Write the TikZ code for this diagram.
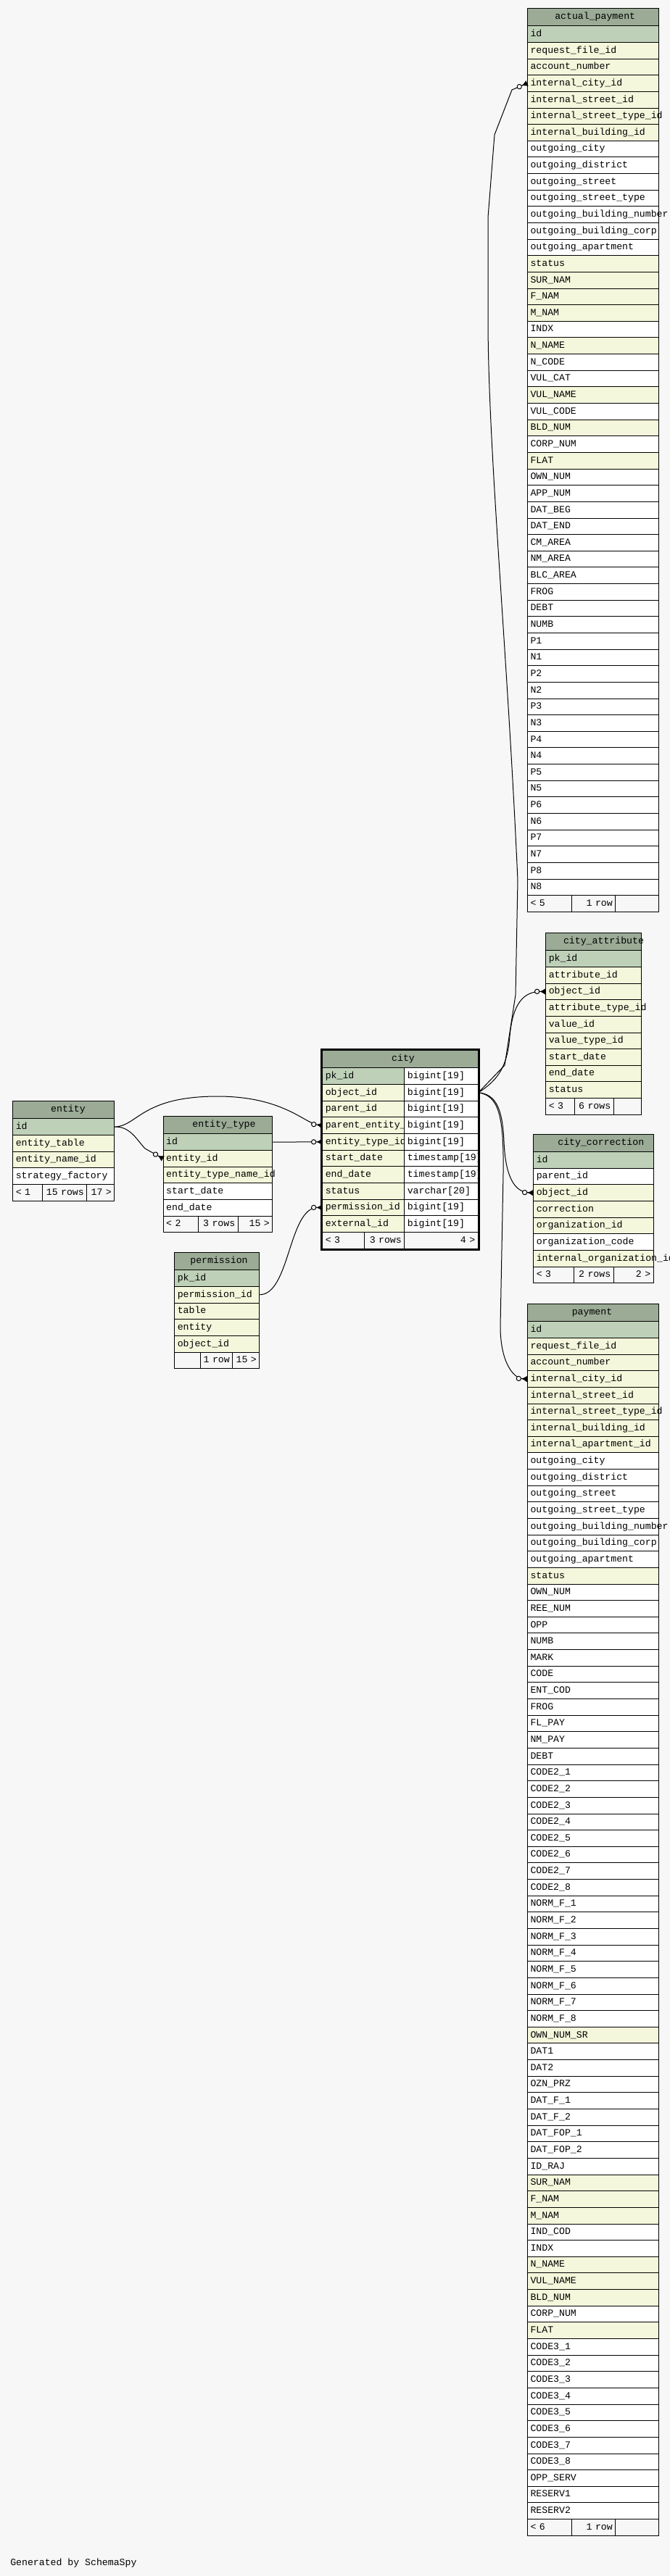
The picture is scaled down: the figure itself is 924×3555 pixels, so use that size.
\documentclass[tikz,border=0pt]{standalone}
\usepackage{fontspec}
\newfontfamily\schemafont{Liberation Mono}
\usepackage{xcolor}
\usetikzlibrary{arrows.meta}
\definecolor{bgcol}{HTML}{F7F7F7}
\definecolor{headcol}{HTML}{9BAB96}
\definecolor{pk}{HTML}{BED1B8}
\definecolor{ix}{HTML}{F4F7DB}
\definecolor{wh}{HTML}{FFFFFF}
\tikzset{
  rowcell/.style={draw, line width=0.75pt, anchor=north west, inner xsep=3pt, inner ysep=0pt,
    minimum height=17pt, text height=7pt, text depth=2pt, align=left,
    font=\schemafont\fontsize{9.9}{11}\selectfont},
  headcell/.style={rowcell, fill=headcol, minimum height=18pt},
  footcell/.style={rowcell, fill=bgcol, align=right},
  tabtitle/.style={inner sep=0pt, font=\schemafont\fontsize{9.9}{11}\selectfont},
  fk/.style={line width=0.75pt,
    -{Circle[fill=bgcol,length=5.5pt,width=5.5pt] Latex[reversed,length=6pt,width=6.5pt]}},
}
\begin{document}
\catcode`\_=12
\begin{tikzpicture}[x=0.75pt,y=-0.75pt]
  \fill[bgcol] (0,0) rectangle (924,3555);
  \useasboundingbox (0,0) rectangle (924,3555);

  % actual_payment
  \node[headcell, text width=129.75pt] (ap-h) at (727,11.3) {};
  \node[tabtitle] (ap-t) at (820.7,23.5) {actual_payment};
  \foreach \col/\k [count=\i] in {id/pk, request_file_id/ix, account_number/ix, internal_city_id/ix,
      internal_street_id/ix, internal_street_type_id/ix, internal_building_id/ix, outgoing_city/wh,
      outgoing_district/wh, outgoing_street/wh, outgoing_street_type/wh, outgoing_building_number/wh,
      outgoing_building_corp/wh, outgoing_apartment/wh, status/ix, SUR_NAM/ix, F_NAM/ix, M_NAM/ix,
      INDX/wh, N_NAME/ix, N_CODE/wh, VUL_CAT/wh, VUL_NAME/ix, VUL_CODE/wh, BLD_NUM/ix, CORP_NUM/wh,
      FLAT/ix, OWN_NUM/wh, APP_NUM/wh, DAT_BEG/wh, DAT_END/wh, CM_AREA/wh, NM_AREA/wh, BLC_AREA/wh,
      FROG/wh, DEBT/wh, NUMB/wh, P1/wh, N1/wh, P2/wh, N2/wh, P3/wh, N3/wh, P4/wh, N4/wh, P5/wh,
      N5/wh, P6/wh, N6/wh, P7/wh, N7/wh, P8/wh, N8/wh}
    \node[rowcell, fill=\k, text width=129.75pt] (ap-\i) at (727,{35.3+(\i-1)*22.64}) {\col};
  \node[footcell, align=left, text width=39.98pt] (ap-f1) at (727,1235.2) {< 5};
  \node[footcell, text width=39pt] (ap-f2) at (788.3,1235.2) {1 row};
  \node[footcell, text width=38.78pt] (ap-f3) at (848.3,1235.2) {};

  % city_attribute
  \node[headcell, text width=93pt] (ca-h) at (752.3,1287.3) {};
  \node[tabtitle] (ca-t) at (832.5,1299.5) {city_attribute};
  \foreach \col/\k [count=\i] in {pk_id/pk, attribute_id/ix, object_id/ix, attribute_type_id/ix,
      value_id/ix, value_type_id/ix, start_date/ix, end_date/ix, status/ix}
    \node[rowcell, fill=\k, text width=93pt] (ca-\i) at (752.3,{1311.3+(\i-1)*22.64}) {\col};
  \node[footcell, align=left, text width=24pt] (ca-f1) at (752.3,1515.1) {< 3};
  \node[footcell, text width=34.05pt] (ca-f2) at (792.3,1515.1) {6 rows};
  \node[footcell, text width=22.95pt] (ca-f3) at (845.7,1515.1) {};

  % city_correction
  \node[headcell, text width=118.05pt] (cc-h) at (735.3,1565) {};
  \node[tabtitle] (cc-t) at (828.8,1577.2) {city_correction};
  \foreach \col/\k [count=\i] in {id/pk, parent_id/wh, object_id/ix, correction/ix,
      organization_id/ix, organization_code/wh, internal_organization_id/ix}
    \node[rowcell, fill=\k, text width=118.05pt] (cc-\i) at (735.3,{1589+(\i-1)*22.64}) {\col};
  \node[footcell, align=left, text width=35.78pt] (cc-f1) at (735.3,1747.5) {< 3};
  \node[footcell, text width=35.03pt] (cc-f2) at (791,1747.5) {2 rows};
  \node[footcell, text width=35.25pt] (cc-f3) at (845.7,1747.5) {2 >};

  % payment
  \node[headcell, text width=129.75pt] (pa-h) at (727,1799.3) {};
  \node[tabtitle] (pa-t) at (816.5,1811.5) {payment};
  \foreach \col/\k [count=\i] in {id/pk, request_file_id/ix, account_number/ix, internal_city_id/ix,
      internal_street_id/ix, internal_street_type_id/ix, internal_building_id/ix,
      internal_apartment_id/ix, outgoing_city/wh, outgoing_district/wh, outgoing_street/wh,
      outgoing_street_type/wh, outgoing_building_number/wh, outgoing_building_corp/wh,
      outgoing_apartment/wh, status/ix, OWN_NUM/wh, REE_NUM/wh, OPP/wh, NUMB/wh, MARK/wh, CODE/wh,
      ENT_COD/wh, FROG/wh, FL_PAY/wh, NM_PAY/wh, DEBT/wh, CODE2_1/wh, CODE2_2/wh, CODE2_3/wh,
      CODE2_4/wh, CODE2_5/wh, CODE2_6/wh, CODE2_7/wh, CODE2_8/wh, NORM_F_1/wh, NORM_F_2/wh,
      NORM_F_3/wh, NORM_F_4/wh, NORM_F_5/wh, NORM_F_6/wh, NORM_F_7/wh, NORM_F_8/wh, OWN_NUM_SR/ix,
      DAT1/wh, DAT2/wh, OZN_PRZ/wh, DAT_F_1/wh, DAT_F_2/wh, DAT_FOP_1/wh, DAT_FOP_2/wh, ID_RAJ/wh,
      SUR_NAM/ix, F_NAM/ix, M_NAM/ix, IND_COD/wh, INDX/wh, N_NAME/ix, VUL_NAME/ix, BLD_NUM/ix,
      CORP_NUM/wh, FLAT/ix, CODE3_1/wh, CODE3_2/wh, CODE3_3/wh, CODE3_4/wh, CODE3_5/wh, CODE3_6/wh,
      CODE3_7/wh, CODE3_8/wh, OPP_SERV/wh, RESERV1/wh, RESERV2/wh}
    \node[rowcell, fill=\k, text width=129.75pt] (pa-\i) at (727,{1823.3+(\i-1)*22.64}) {\col};
  \node[footcell, align=left, text width=39.98pt] (pa-f1) at (727,3476) {< 6};
  \node[footcell, text width=39pt] (pa-f2) at (788.3,3476) {1 row};
  \node[footcell, text width=38.78pt] (pa-f3) at (848.3,3476) {};

  % entity
  \node[headcell, text width=99pt] (en-h) at (17.3,1519.3) {};
  \node[tabtitle] (en-t) at (94,1531.5) {entity};
  \foreach \col/\k [count=\i] in {id/pk, entity_table/ix, entity_name_id/ix, strategy_factory/wh}
    \node[rowcell, fill=\k, text width=99pt] (en-\i) at (17.3,{1543.3+(\i-1)*22.64}) {\col};
  \node[footcell, align=left, text width=24.3pt] (en-f1) at (17.3,1633.9) {< 1};
  \node[footcell, text width=40.2pt] (en-f2) at (57.7,1633.9) {15 rows};
  \node[footcell, text width=22.5pt] (en-f3) at (119.3,1633.9) {17 >};

  % entity_type
  \node[headcell, text width=106.95pt] (et-h) at (224.7,1540.3) {};
  \node[tabtitle] (et-t) at (309,1552.5) {entity_type};
  \foreach \col/\k [count=\i] in {id/pk, entity_id/ix, entity_type_name_id/ix, start_date/wh, end_date/wh}
    \node[rowcell, fill=\k, text width=106.95pt] (et-\i) at (224.7,{1564.3+(\i-1)*22.64}) {\col};
  \node[footcell, align=left, text width=30.45pt] (et-f1) at (224.7,1677.5) {< 2};
  \node[footcell, text width=34.8pt] (et-f2) at (273.3,1677.5) {3 rows};
  \node[footcell, text width=29.7pt] (et-f3) at (327.7,1677.5) {15 >};

  % permission
  \node[headcell, text width=81.75pt] (pe-h) at (240.3,1728.3) {};
  \node[tabtitle] (pe-t) at (302,1740.5) {permission};
  \foreach \col/\k [count=\i] in {pk_id/pk, permission_id/ix, table/ix, entity/ix, object_id/ix}
    \node[rowcell, fill=\k, text width=81.75pt] (pe-\i) at (240.3,{1752.3+(\i-1)*22.64}) {\col};
  \node[footcell, align=left, text width=20.55pt] (pe-f1) at (240.3,1865.5) {};
  \node[footcell, text width=27.45pt] (pe-f2) at (275.7,1865.5) {1 row};
  \node[footcell, text width=21.75pt] (pe-f3) at (320.3,1865.5) {15 >};

  % city
  \node[headcell, text width=154.8pt] (cy-h) at (444.3,1449.3) {};
  \node[tabtitle] (cy-t) at (556,1461.5) {city};
  \foreach \col/\typ/\k [count=\i] in {pk_id/bigint[19]/pk, object_id/bigint[19]/ix,
      parent_id/bigint[19]/ix, parent_entity_id/bigint[19]/ix, entity_type_id/bigint[19]/ix,
      start_date/timestamp[19]/ix, end_date/timestamp[19]/ix, status/varchar[20]/ix,
      permission_id/bigint[19]/ix, external_id/bigint[19]/ix}
  {
    \node[rowcell, fill=\k, text width=78.75pt] (cy-\i) at (444.3,{1473.3+(\i-1)*22.67}) {\col};
    \node[rowcell, fill=wh, text width=70.05pt] (cyt-\i) at (557.3,{1473.3+(\i-1)*22.67}) {\typ};
  }
  \node[footcell, align=left, text width=37.05pt] (cy-f1) at (444.3,1700) {< 3};
  \node[footcell, text width=35.7pt] (cy-f2) at (501.7,1700) {3 rows};
  \node[footcell, text width=70.05pt] (cy-f3) at (557.3,1700) {4 >};
  \draw[line width=2pt] ([shift={(-1.3,-1.3)}]cy-h.north west) rectangle ([shift={(1.3,1.3)}]cy-f3.south east);

  % foreign keys
  \draw[fk] (cyt-2.east) -- (696,1470) -- (711,1373) -- (714,1215)
    .. controls (700,900) and (673,620) .. (673,440) -- (673,300) -- (682,186) -- (706,124) -- (ap-4.west);
  \draw[fk] (cyt-2.east) .. controls (688,1490) and (700,1470) .. (703,1430)
    .. controls (707,1385) and (722,1368) .. (ca-3.west);
  \draw[fk] (cyt-2.east) .. controls (684,1510) and (693,1530) .. (695,1575)
    .. controls (697,1625) and (710,1645) .. (cc-3.west);
  \draw[fk] (cyt-2.east) .. controls (688,1512) and (695,1540) .. (694,1620) -- (690,1830)
    .. controls (690,1880) and (708,1902) .. (pa-4.west);
  \draw[fk] (en-1.east) .. controls (180,1554) and (190,1575) .. (200,1585) -- (et-2.west);
  \draw[fk] (en-1.east) .. controls (190,1554) and (195,1513) .. (300,1513)
    .. controls (390,1513) and (420,1550) .. (cy-4.west);
  \draw[fk] (et-1.east) -- (cy-5.west);
  \draw[fk] (pe-2.east) .. controls (400,1786) and (398,1666) .. (cy-9.west);

  \node[anchor=west, tabtitle] (gen) at (14,3537) {Generated by SchemaSpy};
\end{tikzpicture}
\end{document}
